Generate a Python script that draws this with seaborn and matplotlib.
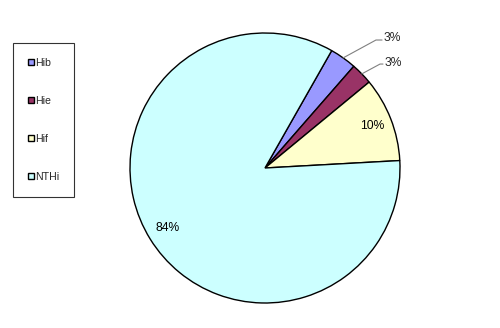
import matplotlib
matplotlib.use("Agg")
import matplotlib.pyplot as plt
import seaborn as sns
import numpy as np

categories = ["Hib", "Hie", "Hif", "NTHi"]
values = [3.2, 2.6, 10.1, 84.1]
colors = ["#9999FF", "#993366", "#FFFFCC", "#CCFFFF"]

sns.set_style("white")
plt.rcParams['font.family'] = ['Liberation Sans', 'DejaVu Sans']

W, H = 500, 328
fig = plt.figure(figsize=(W / 100, H / 100), dpi=100)
cx, cy, r = 265, 160, 135
ax = fig.add_axes([(cx - r) / W, (cy - r) / H, 2 * r / W, 2 * r / H])

def fmt(p):
    return f"{p:.0f}%" if p >= 5 else ""

wedges, texts, autotexts = ax.pie(
    values, colors=colors, startangle=60.4, counterclock=False,
    autopct=fmt, pctdistance=0.85,
    wedgeprops=dict(edgecolor="black", linewidth=1.0),
    textprops=dict(fontsize=8.7, color="black"))
ax.set_xlim(-1, 1)
ax.set_ylim(-1, 1)
ax.set_aspect("equal")
ax.axis("off")

# outside labels for small slices
ends = {0: (0.822, 0.948, 0.867, 0.965), 1: (0.852, 0.770, 0.874, 0.78)}
for i, (ex, ey, hx, ty) in ends.items():
    w = wedges[i]
    mid = np.deg2rad((w.theta1 + w.theta2) / 2)
    sx, sy = np.cos(mid), np.sin(mid)
    ax.plot([sx, ex, hx], [sy, ey, ey], color="#808080", lw=0.8, clip_on=False)
    p = values[i] / sum(values) * 100
    ax.text(hx + 0.01, ty, f"{p:.0f}%", fontsize=8.7, va="center", ha="left")

leg = fig.legend(wedges, categories, loc="upper left",
                 bbox_to_anchor=(13 / W, 1 - 46 / H, 61 / W, 0.01), mode="expand",
                 borderaxespad=0, frameon=True, fancybox=False, edgecolor="black",
                 handlelength=0.5, handleheight=0.5, handletextpad=0.15,
                 labelspacing=2.65, borderpad=1.45, fontsize=7.6)
leg.get_frame().set_linewidth(0.8)

fig.savefig("out.png", dpi=100)
